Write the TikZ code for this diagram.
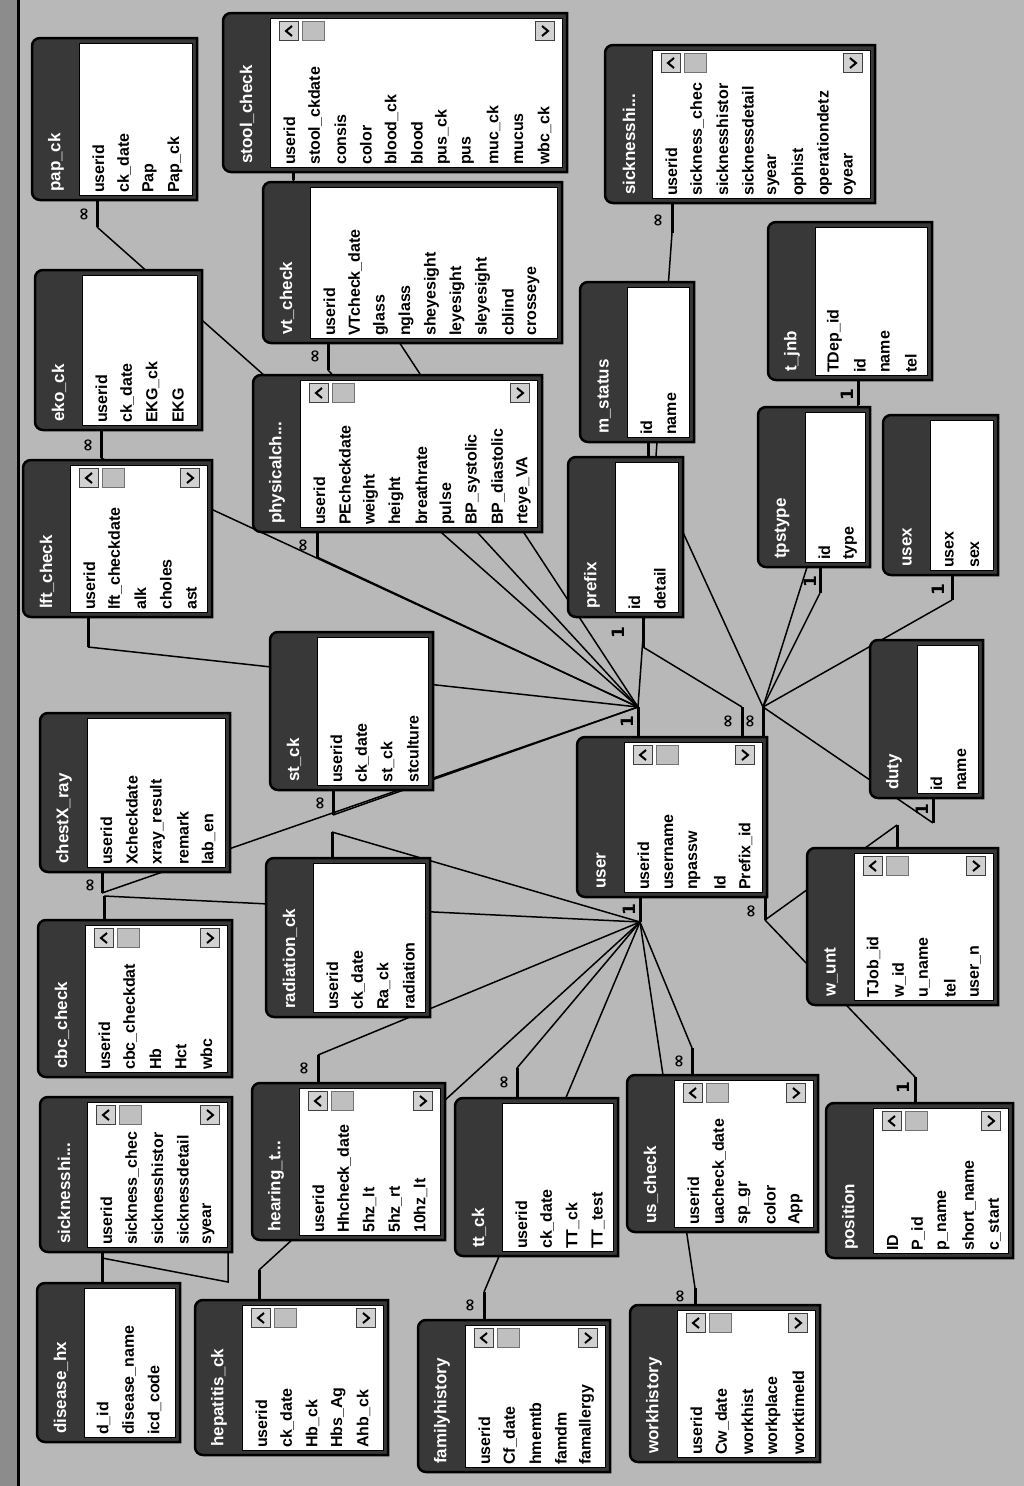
\documentclass[tikz,border=0pt]{standalone}
\usepackage{fontspec}
\setmainfont{Liberation Sans}
\newfontfamily\markfont{DejaVu Sans}
\usetikzlibrary{fit}

% table: name, x1, y1, x2, y2, title, fields
\newcommand{\dbtable}[7]{%
  \node[tblspot, fit={(#2,#3) (#4,#5)}] (#1) {};
  \fill[tblfill, rounded corners=8pt] (#2,#3) rectangle (#4,#5);
  \fill[tblfill] ({#2+20},#3) rectangle (#4,#5);
  \draw[tblframe] ({#2+20},#3) -- (#4,#3) -- (#4,#5) -- ({#2+20},#5)
    [rounded corners=8pt] -- (#2,#5) -- (#2,#3) -- ({#2+20},#3);
  \filldraw[fldarea] ({#2+47},{#3+5}) rectangle ({#4-5},{#5-5});
  \node[tbltitle] (#1-t) at ({#2+24},{#5-8}) {#6};
  \foreach \f [count=\i] in {#7}
    \node[fld] (#1-\i) at ({#2+41+25.5*\i},{#5-7}) {\f};
}
% scroll buttons: name, x1, y1, x2
\newcommand{\tblscroll}[4]{%
  \node[sbtn] (#1-sl) at ({#2+66},{#3+18}) {};
  \node[sthumb] (#1-sm) at ({#2+90},{#3+18}) {};
  \node[sbtn] (#1-sr) at ({#4-22},{#3+18}) {};
  \draw[chev] ([shift={(3pt,5pt)}]#1-sl.center) -- ([xshift=-3pt]#1-sl.center) -- ([shift={(3pt,-5pt)}]#1-sl.center);
  \draw[chev] ([shift={(-3pt,5pt)}]#1-sr.center) -- ([xshift=3pt]#1-sr.center) -- ([shift={(-3pt,-5pt)}]#1-sr.center);
}

\begin{document}
\begin{tikzpicture}[
    x=1pt, y=-1pt,
    tblspot/.style={inner sep=0pt},
    tblfill/.style={fill=black!78},
    tblframe/.style={draw=black, line width=2.5pt},
    fldarea/.style={fill=white, draw=black, line width=0.8pt},
    tbltitle/.style={rotate=90, anchor=west, text=white, inner sep=0pt,
        font=\bfseries\fontsize{17}{17}\selectfont},
    fld/.style={rotate=90, anchor=west, inner sep=0pt,
        font=\bfseries\fontsize{16}{16}\selectfont},
    sbtn/.style={draw=black!75, fill=black!18, line width=0.8pt, minimum size=19pt, inner sep=0pt},
    sthumb/.style={draw=black!55, fill=black!25, minimum width=22pt, minimum height=19pt, inner sep=0pt},
    chev/.style={line width=2pt},
    link/.style={line width=1.5pt},
    stub/.style={line width=3pt},
    cardmark/.style={rotate=90, inner sep=0pt, font=\markfont\bfseries\fontsize{17}{17}\selectfont}
]
\useasboundingbox (0,0) rectangle (1024,1486);
\fill[black!28] (0,0) rectangle (1024,1486);
\fill[black!45] (0,0) rectangle (17,1486);
\draw[line width=3pt] (18.5,0) -- (18.5,1486);

% hubs on user
\coordinate (hubA) at (638,707);
\coordinate (hubC) at (742,707);
\coordinate (hubD) at (763,707);
\coordinate (hubB) at (640,922);
\coordinate (hubE) at (765,920);

% stub ends
\coordinate (pap-s) at (97,227);
\coordinate (stool-s) at (293,180);
\coordinate (vt-s) at (328,370);
\coordinate (eko-s) at (101,458);
\coordinate (phys-s) at (317,557);
\coordinate (lft-s) at (88,647);
\coordinate (st-s) at (333,815);
\coordinate (chx-s) at (102,893);
\coordinate (sick1-s) at (672,233);
\coordinate (mst-s) at (648,456);
\coordinate (pre-s) at (643,647);
\coordinate (tps-s) at (820,593);
\coordinate (jnb-s) at (858,405);
\coordinate (usex-s) at (952,600);
\coordinate (duty-s) at (933,823);
\coordinate (wunt-s) at (897,825);
\coordinate (pos-s) at (915,1077);
\coordinate (cbc-s) at (104,896);
\coordinate (rad-s) at (332,832);
\coordinate (hear-s) at (318,1055);
\coordinate (hep-s) at (259,1270);
\coordinate (tt-s) at (517,1068);
\coordinate (fam-s) at (484,1292);
\coordinate (us-s) at (692,1048);
\coordinate (work-s) at (695,1288);
\coordinate (sick2-s) at (102,1258);
\coordinate (dis-a) at (228,1282);

% relationship lines
\foreach \s in {pap,stool,vt,eko,phys,lft,st,chx,sick1}
    \draw[link] (\s-s) -- (hubA);
\draw[link] (pre-s) -- (hubC);
\foreach \s in {mst,tps,jnb,usex,duty}
    \draw[link] (\s-s) -- (hubD);
\foreach \s in {cbc,rad,hear,hep,tt,fam,us,work}
    \draw[link] (\s-s) -- (hubB);
\foreach \s in {wunt,pos}
    \draw[link] (\s-s) -- (hubE);

% tables
\dbtable{pap}{32}{38}{197}{200}{pap\_ck}{userid,ck\_date,Pap,Pap\_ck}
\dbtable{stool}{223}{13}{567}{172}{stool\_check}{userid,stool\_ckdate,consis,color,blood\_ck,blood,pus\_ck,pus,muc\_ck,mucus,wbc\_ck}
\tblscroll{stool}{223}{13}{567}
\dbtable{sick1}{605}{45}{875}{203}{sicknesshi...}{userid,sickness\_chec,sicknesshistor,sicknessdetail,syear,ophist,operationdetz,oyear}
\tblscroll{sick1}{605}{45}{875}
\dbtable{eko}{35}{270}{202}{430}{eko\_ck}{userid,ck\_date,EKG\_ck,EKG}
\dbtable{vt}{263}{182}{562}{343}{vt\_check}{userid,VTcheck\_date,glass,nglass,sheyesight,leyesight,sleyesight,cblind,crosseye}
\dbtable{phys}{253}{375}{542}{532}{physicalch...}{userid,PEcheckdate,weight,height,breathrate,pulse,BP\_systolic,BP\_diastolic,rteye\_VA}
\tblscroll{phys}{253}{375}{542}
\dbtable{mst}{580}{282}{694}{442}{m\_status}{id,name}
\dbtable{jnb}{768}{222}{932}{380}{t\_jnb}{TDep\_id,id,name,tel}
\dbtable{pre}{568}{457}{683}{617}{prefix}{id,detail}
\dbtable{tps}{758}{407}{870}{567}{tpstype}{id,type}
\dbtable{usex}{883}{415}{998}{575}{usex}{usex,sex}
\dbtable{lft}{23}{460}{212}{617}{lft\_check}{userid,lft\_checkdate,alk,choles,ast}
\tblscroll{lft}{23}{460}{212}
\dbtable{st}{270}{632}{433}{790}{st\_ck}{userid,ck\_date,st\_ck,stculture}
\dbtable{user}{577}{737}{767}{897}{user}{userid,username,npassw,Id,Prefix\_id}
\tblscroll{user}{577}{737}{767}
\dbtable{duty}{870}{640}{983}{798}{duty}{id,name}
\dbtable{chx}{40}{713}{230}{872}{chestX\_ray}{userid,Xcheckdate,xray\_result,remark,lab\_en}
\dbtable{cbc}{38}{920}{232}{1077}{cbc\_check}{userid,cbc\_checkdat,Hb,Hct,wbc}
\tblscroll{cbc}{38}{920}{232}
\dbtable{rad}{266}{858}{430}{1017}{radiation\_ck}{userid,ck\_date,Ra\_ck,radiation}
\dbtable{wunt}{807}{848}{998}{1005}{w\_unt}{TJob\_id,w\_id,u\_name,tel,user\_n}
\tblscroll{wunt}{807}{848}{998}
\dbtable{sick2}{40}{1097}{232}{1252}{sicknesshi...}{userid,sickness\_chec,sicknesshistor,sicknessdetail,syear}
\tblscroll{sick2}{40}{1097}{232}
\dbtable{hear}{252}{1083}{445}{1240}{hearing\_t...}{userid,Hhcheck\_date,5hz\_lt,5hz\_rt,10hz\_lt}
\tblscroll{hear}{252}{1083}{445}
\dbtable{tt}{455}{1098}{618}{1256}{tt\_ck}{userid,ck\_date,TT\_ck,TT\_test}
\dbtable{us}{627}{1075}{818}{1232}{us\_check}{userid,uacheck\_date,sp\_gr,color,App}
\tblscroll{us}{627}{1075}{818}
\dbtable{pos}{826}{1103}{1013}{1258}{position}{ID,P\_id,p\_name,short\_name,c\_start}
\tblscroll{pos}{826}{1103}{1013}
\dbtable{disease}{37}{1283}{180}{1442}{disease\_hx}{d\_id,disease\_name,icd\_code}
\dbtable{hep}{195}{1300}{388}{1455}{hepatitis\_ck}{userid,ck\_date,Hb\_ck,Hbs\_Ag,Ahb\_ck}
\tblscroll{hep}{195}{1300}{388}
\dbtable{fam}{418}{1320}{610}{1472}{familyhistory}{userid,Cf\_date,hmemtb,famdm,famallergy}
\tblscroll{fam}{418}{1320}{610}
\dbtable{work}{630}{1305}{820}{1462}{workhistory}{userid,Cw\_date,workhist,workplace,worktimeId}
\tblscroll{work}{630}{1305}{820}

% stubs
\foreach \t in {pap,stool,vt,eko,phys,lft,st,chx,sick1,mst,pre,tps,jnb,usex,duty}
    \draw[stub] (\t-s |- \t.south) -- (\t-s);
\foreach \t in {wunt,pos,cbc,rad,hear,hep,tt,fam,us,work}
    \draw[stub] (\t-s |- \t.north) -- (\t-s);
\foreach \h in {hubA,hubC,hubD}
    \draw[stub] (\h |- user.north) -- (\h);
\foreach \h in {hubB,hubE}
    \draw[stub] (\h |- user.south) -- (\h);
\draw[stub] (sick2-s |- sick2.south) -- (sick2-s |- disease.north);
\draw[link] (sick2-s) -- (dis-a) -- (dis-a |- sick2.south);

% end marks
\foreach \n/\p in {pap/{85,214},vt/{316,356},eko/{89,445},phys/{304,545},st/{321,803},
    chx/{91,885},sick1/{659,220},hear/{305,1068},tt/{505,1082},fam/{471,1305},
    us/{680,1061},work/{681,1296},hubC/{729,721},hubD/{751,721},hubE/{752,911}}
    \node[cardmark] (m-\n) at (\p) {∞};
\foreach \n/\p in {hubA/{627,722},hubB/{629,910},pre/{618,633},tps/{810,582},
    jnb/{847,395},usex/{938,590},duty/{922,810},pos/{903,1088}}
    \node[cardmark] (m-\n) at (\p) {1};
\end{tikzpicture}
\end{document}
